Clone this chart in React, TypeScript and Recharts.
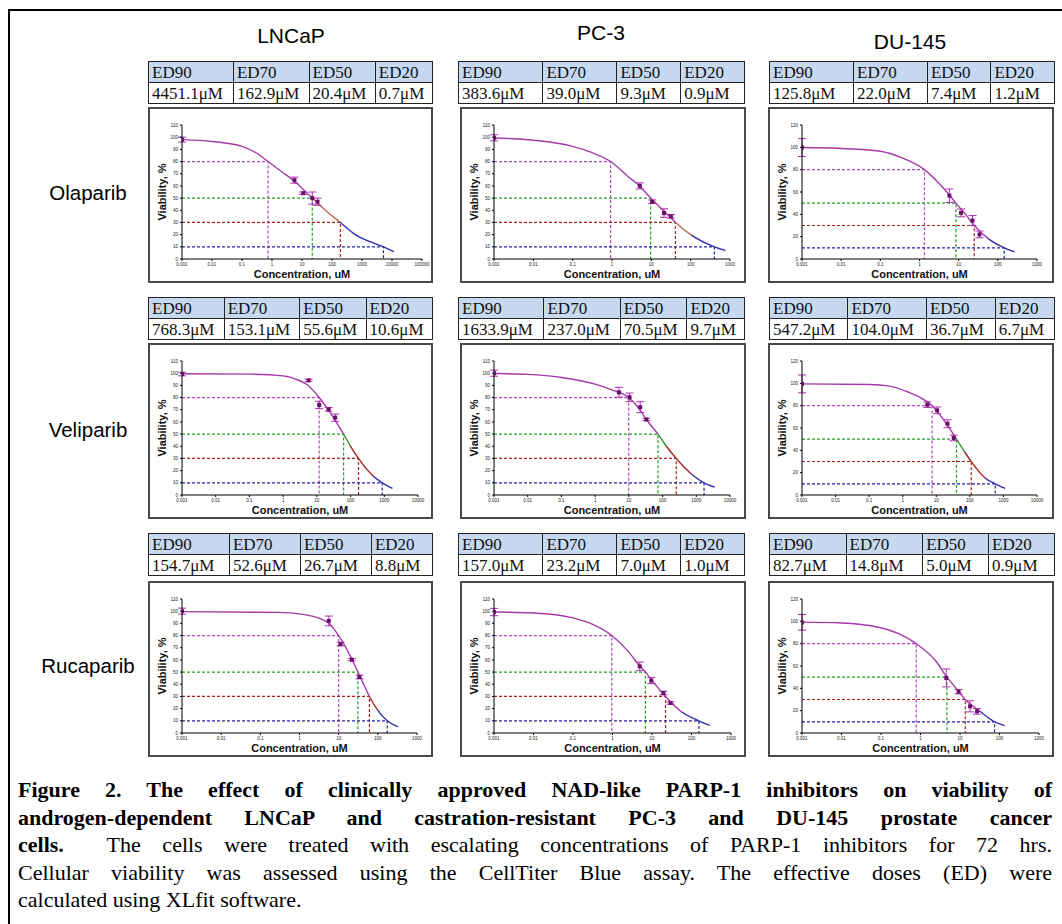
import React from 'react';
import { ComposedChart, Line, Scatter, XAxis, YAxis, ErrorBar } from 'recharts';

// ---------- labels ----------
const cellLines = ['LNCaP', 'PC-3', 'DU-145'];
const drugs = ['Olaparib', 'Veliparib', 'Rucaparib'];
const edHeaders = ['ED90', 'ED70', 'ED50', 'ED20'];
const refLevels = [80, 50, 30, 10];

// ---------- axis ticks ----------
const xTicks7 = [0.001, 0.01, 0.1, 1, 10, 100, 1000];
const xTicks8 = [0.001, 0.01, 0.1, 1, 10, 100, 1000, 10000];
const xTicks9 = [0.001, 0.01, 0.1, 1, 10, 100, 1000, 10000, 100000];
const yTicks110 = [0, 10, 20, 30, 40, 50, 60, 70, 80, 90, 100, 110];
const yTicks120 = [0, 20, 40, 60, 80, 100, 120];

// ---------- ED tables ----------
const edLNCaPOla = ['4451.1μM', '162.9μM', '20.4μM', '0.7μM'];
const edPC3Ola = ['383.6μM', '39.0μM', '9.3μM', '0.9μM'];
const edDU145Ola = ['125.8μM', '22.0μM', '7.4μM', '1.2μM'];
const edLNCaPVel = ['768.3μM', '153.1μM', '55.6μM', '10.6μM'];
const edPC3Vel = ['1633.9μM', '237.0μM', '70.5μM', '9.7μM'];
const edDU145Vel = ['547.2μM', '104.0μM', '36.7μM', '6.7μM'];
const edLNCaPRuc = ['154.7μM', '52.6μM', '26.7μM', '8.8μM'];
const edPC3Ruc = ['157.0μM', '23.2μM', '7.0μM', '1.0μM'];
const edDU145Ruc = ['82.7μM', '14.8μM', '5.0μM', '0.9μM'];

// ---------- fitted curves [conc, viability] ----------
const curveLNCaPOla = [[0.001, 98], [0.01, 96.5], [0.1, 92.5], [0.3, 87], [0.74, 80], [2, 72], [5.5, 64], [22, 50], [60, 40], [190, 30], [600, 20], [5200, 10], [11500, 6]];
const curvePC3Ola = [[0.001, 99.3], [0.01, 97.5], [0.1, 92.5], [0.3, 87.5], [0.92, 80], [2.5, 68], [5, 60], [9.6, 50], [20, 40], [41, 30], [100, 20], [400, 10], [760, 7]];
const curveDU145Ola = [[0.001, 99.8], [0.01, 99], [0.1, 96.5], [0.36, 90.5], [1.34, 80], [3, 68.5], [5.6, 58], [8.5, 50], [15, 40], [25, 30], [58, 18], [145, 10], [265, 6.5]];
const curveLNCaPVel = [[0.001, 99.5], [0.1, 99.2], [1, 97.8], [3, 94], [5.2, 90.5], [11.7, 80], [25, 67.5], [37, 60], [62, 50], [100, 40], [172, 30], [450, 16], [870, 10], [1750, 5.5]];
const curvePC3Vel = [[0.001, 99.7], [0.01, 99], [0.1, 96.5], [1, 91], [3, 86.5], [9.9, 80], [20, 71], [33, 62], [73, 50], [130, 40], [255, 30], [700, 17.5], [1700, 10], [3500, 6.5]];
const curveDU145Vel = [[0.001, 99.5], [0.1, 99], [0.4, 97.5], [1.5, 92], [3.5, 87], [7.5, 80], [21, 63], [40, 50], [70, 38.5], [110, 30], [290, 15], [570, 10], [1120, 6]];
const curveLNCaPRuc = [[0.001, 99.6], [0.3, 99], [1.5, 97], [5.4, 90.5], [10, 80], [21.5, 61], [31, 50], [45, 39], [61, 30], [100, 18.5], [174, 10], [325, 5]];
const curvePC3Ruc = [[0.001, 99.3], [0.01, 98.5], [0.1, 94.5], [0.35, 88.5], [0.96, 80], [2.5, 67], [4.9, 55], [6.8, 50], [12, 40], [22, 30], [58, 17], [154, 10], [290, 6.3]];
const curveDU145Ruc = [[0.001, 99.3], [0.01, 98.5], [0.075, 95.2], [0.29, 88.7], [0.78, 80], [2.5, 64], [4.66, 50], [8, 40], [13.6, 30], [32, 19.5], [75, 10], [135, 6.6]];

// ---------- measured points [conc, viability, error] ----------
const ptsLNCaPOla = [[0.001, 98, 2], [5.6, 64.7, 2.5], [11, 54, 1], [22, 50, 5], [33, 47, 3]];
const ptsPC3Ola = [[0.001, 99.5, 2.5], [5.1, 60, 2.5], [10.5, 47, 1.5], [21, 37.7, 3.5], [31.6, 35, 1.5]];
const ptsDU145Ola = [[0.001, 99.8, 8], [5.8, 56.7, 6], [11.5, 41.3, 3.5], [22.6, 34.4, 4.5], [34, 22, 3]];
const ptsLNCaPVel = [[0.001, 99.3, 1.5], [5.7, 94.1, 1], [11.7, 73.9, 3], [22.3, 70.3, 1.5], [35, 63.5, 3]];
const ptsPC3Vel = [[0.001, 100, 2.5], [5.1, 84.3, 4], [10.5, 80.2, 3.5], [21.7, 72.1, 4.5], [33, 62, 1]];
const ptsDU145Vel = [[0.001, 99.5, 8], [5.4, 80.9, 2.5], [10.6, 75.8, 3], [21.5, 63.8, 3.5], [33, 51.1, 2.5]];
const ptsLNCaPRuc = [[0.001, 100, 2.5], [5.6, 92, 4], [11.2, 73, 1.5], [21.7, 60.2, 1], [34, 46, 1.5]];
const ptsPC3Ruc = [[0.001, 99.3, 3], [4.9, 54.7, 3.5], [9.6, 43, 2.5], [19.5, 32.8, 1.5], [29.5, 24.6, 1]];
const ptsDU145Ruc = [[0.001, 99.1, 7], [4.5, 49.3, 8], [9.2, 37, 2], [18, 23.9, 5], [27, 19.4, 2.5]];

// ---------- concentrations where curve crosses 80/50/30/10 % ----------
const crossLNCaPOla = [0.74, 22, 190, 5200];
const crossPC3Ola = [0.92, 9.6, 41, 400];
const crossDU145Ola = [1.34, 8.5, 25, 145];
const crossLNCaPVel = [11.7, 62, 172, 870];
const crossPC3Vel = [9.9, 73, 255, 1700];
const crossDU145Vel = [7.5, 40, 110, 570];
const crossLNCaPRuc = [10, 31, 61, 174];
const crossPC3Ruc = [0.96, 6.8, 22, 154];
const crossDU145Ruc = [0.78, 4.66, 13.6, 75];

// ---------- styles ----------
const PURPLE = '#a43aa8';
const GREEN = '#2f9a2f';
const RED = '#a82424';
const BROWN = '#b86a5c';
const BLUE = '#3030b0';
const refColors = ['#b447c2', '#23a023', '#a82222', '#2222a8'];
const SANS = '"Liberation Sans", Arial, sans-serif';
const SERIF = '"Liberation Serif", "Times New Roman", serif';

type Cfg = {
  curve: number[][]; pts: number[][]; cross: number[]; xTicks: number[]; yTicks: number[];
  breaks: number[]; colors: string[]; right: number; ed: string[];
};

const panels: Cfg[][] = [
  [
    { curve: curveLNCaPOla, pts: ptsLNCaPOla, cross: crossLNCaPOla, xTicks: xTicks9, yTicks: yTicks110, breaks: [50, 30], colors: [PURPLE, BROWN, BLUE], right: 9, ed: edLNCaPOla },
    { curve: curvePC3Ola, pts: ptsPC3Ola, cross: crossPC3Ola, xTicks: xTicks7, yTicks: yTicks110, breaks: [30, 20], colors: [PURPLE, BROWN, BLUE], right: 14, ed: edPC3Ola },
    { curve: curveDU145Ola, pts: ptsDU145Ola, cross: crossDU145Ola, xTicks: xTicks7, yTicks: yTicks120, breaks: [18], colors: [PURPLE, BLUE], right: 15, ed: edDU145Ola },
  ],
  [
    { curve: curveLNCaPVel, pts: ptsLNCaPVel, cross: crossLNCaPVel, xTicks: xTicks8, yTicks: yTicks110, breaks: [50, 40, 16], colors: [PURPLE, GREEN, RED, BLUE], right: 13, ed: edLNCaPVel },
    { curve: curvePC3Vel, pts: ptsPC3Vel, cross: crossPC3Vel, xTicks: xTicks8, yTicks: yTicks110, breaks: [50, 40, 17.5], colors: [PURPLE, GREEN, RED, BLUE], right: 14, ed: edPC3Vel },
    { curve: curveDU145Vel, pts: ptsDU145Vel, cross: crossDU145Vel, xTicks: xTicks8, yTicks: yTicks120, breaks: [50, 38.5, 15], colors: [PURPLE, GREEN, RED, BLUE], right: 15, ed: edDU145Vel },
  ],
  [
    { curve: curveLNCaPRuc, pts: ptsLNCaPRuc, cross: crossLNCaPRuc, xTicks: xTicks7, yTicks: yTicks110, breaks: [30, 18.5], colors: [PURPLE, RED, BLUE], right: 14, ed: edLNCaPRuc },
    { curve: curvePC3Ruc, pts: ptsPC3Ruc, cross: crossPC3Ruc, xTicks: xTicks7, yTicks: yTicks110, breaks: [17], colors: [PURPLE, BLUE], right: 13, ed: edPC3Ruc },
    { curve: curveDU145Ruc, pts: ptsDU145Ruc, cross: crossDU145Ruc, xTicks: xTicks7, yTicks: yTicks120, breaks: [19.5], colors: [PURPLE, BLUE], right: 13, ed: edDU145Ruc },
  ],
];

const colX = [148, 460, 768];
const colW = [285, 286, 286];
const tableX = [148, 458, 769];
const tableW = [285, 287, 286];
const rowY = [107, 343, 581];
const tableY = [61, 297, 533];
const rowLabelY = [193, 430, 666];

// gradient stops for colouring the fitted line by viability band
function bandStops(curve: number[][], breaks: number[], colors: string[]) {
  const top = curve[0][1];
  const bottom = curve[curve.length - 1][1];
  const offs = [0, ...breaks.map((b) => (top - b) / (top - bottom)), 1];
  const stops: { o: number; c: string }[] = [];
  colors.forEach((c, i) => {
    stops.push({ o: offs[i], c });
    stops.push({ o: offs[i + 1], c });
  });
  return stops;
}

const Square = (props: any) => {
  const { cx, cy } = props;
  if (cx == null || cy == null) return null;
  return <rect x={cx - 2} y={cy - 2} width={4} height={4} fill="#6a106a" />;
};

const fmt = (v: number) => String(v);

function Panel({ cfg, left, top, width, id }: { cfg: Cfg; left: number; top: number; width: number; id: string }) {
  const xmin = cfg.xTicks[0];
  const xmax = cfg.xTicks[cfg.xTicks.length - 1];
  const ymax = cfg.yTicks[cfg.yTicks.length - 1];
  const curveData = cfg.curve.map(([x, y]) => ({ x, y }));
  const pts = cfg.pts.map(([x, y, e]) => ({ x, y, e }));
  const stops = bandStops(cfg.curve, cfg.breaks, cfg.colors);
  const gid = 'grad-' + id;
  return (
    <div style={{ position: 'absolute', left, top, width, height: 176, border: '2px solid #4a4a4a', boxSizing: 'border-box', background: '#fff' }}>
      <ComposedChart width={width - 4} height={172} margin={{ top: 16, right: cfg.right, left: 4, bottom: 0 }}>
        <defs>
          <linearGradient id={gid} x1="0" y1="0" x2="0" y2="1">
            {stops.map((s, i) => <stop key={i} offset={s.o} stopColor={s.c} />)}
          </linearGradient>
        </defs>
        <XAxis
          type="number" dataKey="x" scale="log" domain={[xmin, xmax]} ticks={cfg.xTicks} allowDataOverflow
          tickFormatter={fmt} tick={{ fontSize: 4.5, fill: '#222', fontFamily: SANS }} tickSize={2}
          axisLine={{ stroke: '#000' }} tickLine={{ stroke: '#000' }} height={22} interval={0}
          label={{ value: 'Concentration, uM', position: 'insideBottom', offset: 3, style: { fontSize: 11, fontWeight: 'bold', fill: '#111', fontFamily: SANS } }}
        />
        <YAxis
          type="number" domain={[0, ymax]} ticks={cfg.yTicks} allowDataOverflow width={28}
          tick={{ fontSize: 4.5, fill: '#222', fontFamily: SANS }} tickSize={2} interval={0}
          axisLine={{ stroke: '#000' }} tickLine={{ stroke: '#000' }}
          label={{ value: 'Viability, %', angle: -90, position: 'insideLeft', offset: 8, style: { textAnchor: 'middle', fontSize: 11, fontWeight: 'bold', fill: '#111', fontFamily: SANS } }}
        />
        {refLevels.map((lvl, i) => (
          <Line
            key={'ref' + i}
            data={[{ x: xmin, y: lvl }, { x: cfg.cross[i], y: lvl }, { x: cfg.cross[i], y: 0 }]}
            dataKey="y" type="linear" stroke={refColors[i]} strokeWidth={1.2} strokeDasharray="3 2"
            dot={false} activeDot={false} isAnimationActive={false}
          />
        ))}
        <Line
          data={curveData} dataKey="y" type="monotone" stroke={`url(#${gid})`} strokeWidth={1.4}
          dot={false} activeDot={false} isAnimationActive={false}
        />
        <Scatter data={pts} dataKey="y" shape={Square} isAnimationActive={false}>
          <ErrorBar dataKey="e" direction="y" width={4} stroke="#b030b0" strokeWidth={1} />
        </Scatter>
      </ComposedChart>
    </div>
  );
}

function EdTable({ values, left, top, width }: { values: string[]; left: number; top: number; width: number }) {
  const cell: React.CSSProperties = { border: '1px solid #222', padding: '0 3px', height: 20, lineHeight: '19px', textAlign: 'left', whiteSpace: 'nowrap' };
  return (
    <table style={{ position: 'absolute', left, top, width, borderCollapse: 'collapse', fontFamily: SERIF, fontSize: 17, color: '#111', border: '1px solid #666' }}>
      <tbody>
        <tr>{edHeaders.map((h) => <td key={h} style={{ ...cell, background: '#c6d9f1' }}>{h}</td>)}</tr>
        <tr>{values.map((v, i) => <td key={i} style={{ ...cell, background: '#fff' }}>{v}</td>)}</tr>
      </tbody>
    </table>
  );
}

const titleTops = [25, 22, 31];
const titleCx = [291, 601, 910];

const captionLines: { bold: string; normal: string; last?: boolean }[] = [
  { bold: 'Figure 2. The effect of clinically approved NAD-like PARP-1 inhibitors on viability of', normal: '' },
  { bold: 'androgen-dependent LNCaP and castration-resistant PC-3 and DU-145 prostate cancer', normal: '' },
  { bold: 'cells.', normal: '  The cells were treated with escalating concentrations of PARP-1 inhibitors for 72 hrs.' },
  { bold: '', normal: 'Cellular viability was assessed using the CellTiter Blue assay. The effective doses (ED) were' },
  { bold: '', normal: 'calculated using XLfit software.', last: true },
];

export default function App() {
  return (
    <div style={{ position: 'absolute', left: 0, top: 0, width: 1062, height: 924, background: '#fff', overflow: 'hidden' }}>
      <div style={{ position: 'absolute', left: 8, top: 9, width: 1080, height: 940, border: '2px solid #000', boxSizing: 'border-box' }} />
      {cellLines.map((c, i) => (
        <div key={c} style={{ position: 'absolute', left: titleCx[i] - 100, width: 200, top: titleTops[i], textAlign: 'center', fontFamily: SANS, fontSize: 21, lineHeight: 1, color: '#000' }}>{c}</div>
      ))}
      {drugs.map((d, r) => (
        <div key={d} style={{ position: 'absolute', left: 20, width: 136, top: rowLabelY[r] - 12, textAlign: 'center', fontFamily: SANS, fontSize: 20.5, lineHeight: '24px', color: '#000' }}>{d}</div>
      ))}
      {panels.map((row, r) => row.map((cfg, c) => (
        <React.Fragment key={r + '-' + c}>
          <EdTable values={cfg.ed} left={tableX[c]} top={tableY[r]} width={tableW[c]} />
          <Panel cfg={cfg} left={colX[c]} top={rowY[r]} width={colW[c]} id={r + '-' + c} />
        </React.Fragment>
      )))}
      <div style={{ position: 'absolute', left: 18, top: 776, width: 1034, fontFamily: SERIF, fontSize: 22, lineHeight: '27.5px', color: '#000' }}>
        {captionLines.map((l, i) => (
          <div key={i} style={{ whiteSpace: 'pre', textAlign: l.last ? 'left' : 'justify', textAlignLast: l.last ? 'left' : 'justify' }}>
            {l.bold && <b>{l.bold}</b>}{l.normal}
          </div>
        ))}
      </div>
    </div>
  );
}
